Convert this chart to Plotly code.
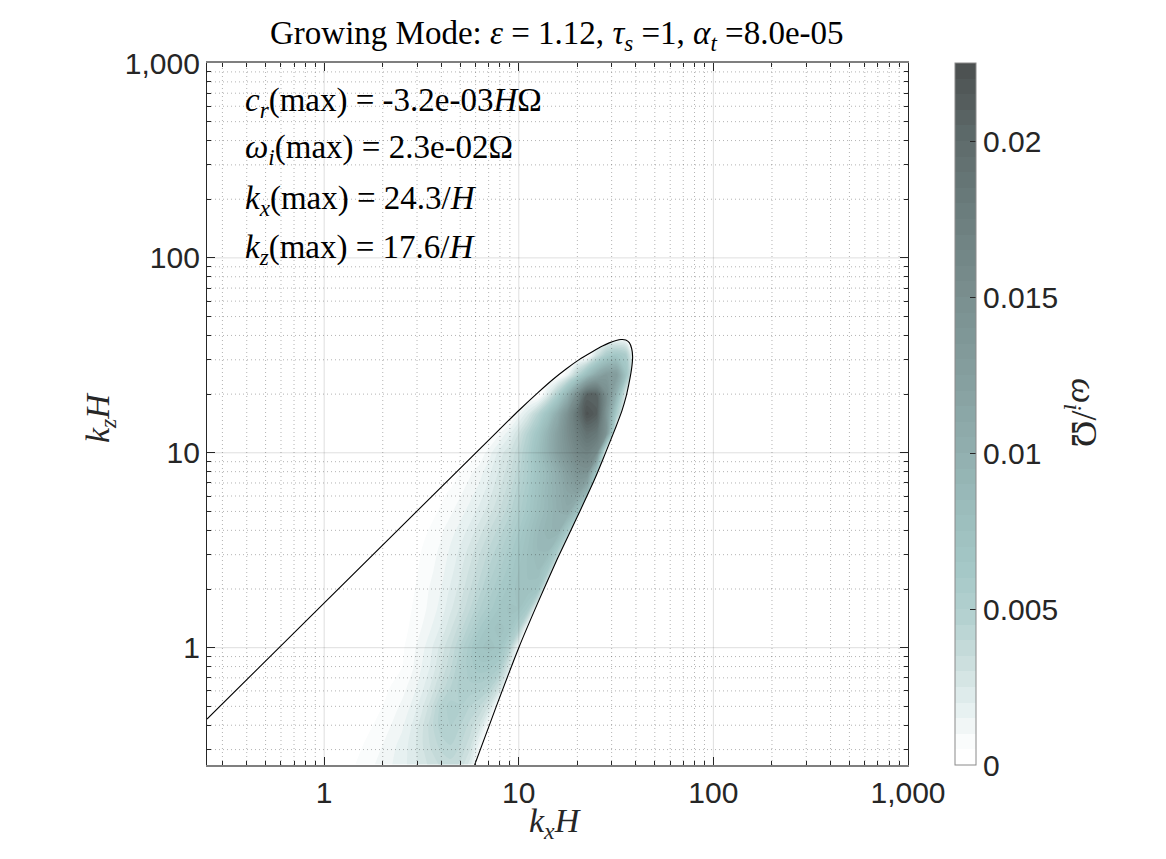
import math
import plotly.graph_objects as go

# ---------------- data ----------------
# sample grid of wavenumbers (k_x H columns, k_z H rows), log-spaced
kx_grid = [1.0, 1.259, 1.585, 1.995, 2.512, 2.818, 3.162, 3.548, 3.981, 4.467,
           5.012, 5.623, 6.310, 7.079, 7.943, 8.913, 10.0, 11.22, 12.59, 14.13,
           15.85, 17.78, 19.95, 22.39, 25.12, 28.18, 31.62, 35.48, 39.81, 44.67, 50.12]
kz_grid = [0.2512, 0.3162, 0.3981, 0.5012, 0.6310, 0.7943, 1.0, 1.259, 1.585, 1.995,
           2.512, 3.162, 3.981, 5.012, 6.310, 7.943, 10.0, 12.59, 15.85, 19.95,
           25.12, 31.62, 39.81, 50.12]

# growth rate omega_i / Omega: one row per kz_grid value
omega_i = [
    [0, 0.0002, 0.0007, 0.0012, 0.0018, 0.0022, 0.0027, 0.0032, 0.0036, 0.0038, 0.0034, 0.0022] + [0] * 19,
    [0, 0.0001, 0.0005, 0.0010, 0.0017, 0.0022, 0.0029, 0.0036, 0.0042, 0.0045, 0.0040, 0.0032, 0.0012] + [0] * 18,
    [0, 0, 0.0003, 0.0007, 0.0014, 0.0020, 0.0028, 0.0038, 0.0048, 0.0050, 0.0045, 0.0038, 0.0028, 0.0005] + [0] * 17,
    [0, 0, 0.0001, 0.0005, 0.0011, 0.0016, 0.0023, 0.0033, 0.0047, 0.0052, 0.0050, 0.0045, 0.0040, 0.0028] + [0] * 17,
    [0, 0, 0, 0.0003, 0.0008, 0.0012, 0.0018, 0.0026, 0.0036, 0.0045, 0.0052, 0.0054, 0.0053, 0.0048, 0.0032] + [0] * 16,
    [0, 0, 0, 0.0001, 0.0005, 0.0009, 0.0015, 0.0021, 0.0030, 0.0039, 0.0050, 0.0058, 0.0063, 0.0062, 0.0055, 0.0025] + [0] * 15,
    [0, 0, 0, 0, 0.0004, 0.0008, 0.0013, 0.0019, 0.0027, 0.0035, 0.0046, 0.0058, 0.0069, 0.0072, 0.0068, 0.0050, 0.0008] + [0] * 14,
    [0, 0, 0, 0, 0.0003, 0.0006, 0.0010, 0.0015, 0.0021, 0.0029, 0.0038, 0.0048, 0.0060, 0.0068, 0.0072, 0.0068, 0.0052] + [0] * 14,
    [0, 0, 0, 0, 0.0002, 0.0005, 0.0008, 0.0012, 0.0017, 0.0024, 0.0031, 0.0040, 0.0050, 0.0058, 0.0066, 0.0071, 0.0070, 0.0058] + [0] * 13,
    [0, 0, 0, 0, 0.0002, 0.0004, 0.0007, 0.0011, 0.0015, 0.0021, 0.0027, 0.0035, 0.0043, 0.0052, 0.0060, 0.0067, 0.0072, 0.0074, 0.0068] + [0] * 12,
    [0, 0, 0, 0, 0.0001, 0.0003, 0.0006, 0.0009, 0.0013, 0.0018, 0.0024, 0.0031, 0.0038, 0.0046, 0.0054, 0.0062, 0.0070, 0.0076, 0.0080, 0.0060] + [0] * 11,
    [0, 0, 0, 0, 0, 0.0002, 0.0005, 0.0008, 0.0011, 0.0016, 0.0021, 0.0027, 0.0034, 0.0041, 0.0048, 0.0057, 0.0066, 0.0076, 0.0085, 0.0086, 0.0058] + [0] * 10,
    [0, 0, 0, 0, 0, 0, 0.0003, 0.0006, 0.0009, 0.0013, 0.0017, 0.0022, 0.0028, 0.0035, 0.0042, 0.0050, 0.0060, 0.0072, 0.0085, 0.0093, 0.0097, 0.0062] + [0] * 9,
    [0, 0, 0, 0, 0, 0, 0, 0.0003, 0.0006, 0.0009, 0.0013, 0.0017, 0.0022, 0.0028, 0.0035, 0.0043, 0.0053, 0.0064, 0.0078, 0.0090, 0.0100, 0.0108, 0.0078] + [0] * 8,
    [0] * 8 + [0.0003, 0.0006, 0.0009, 0.0013, 0.0017, 0.0023, 0.0030, 0.0038, 0.0048, 0.0060, 0.0075, 0.0090, 0.0102, 0.0115, 0.0122, 0.0095] + [0] * 7,
    [0] * 10 + [0.0005, 0.0009, 0.0013, 0.0019, 0.0026, 0.0033, 0.0043, 0.0056, 0.0072, 0.0088, 0.0105, 0.0125, 0.0142, 0.0145, 0.0065] + [0] * 6,
    [0] * 12 + [0.0006, 0.0013, 0.0022, 0.0029, 0.0039, 0.0055, 0.0076, 0.0098, 0.0122, 0.0142, 0.0160, 0.0168, 0.0155] + [0] * 6,
    [0] * 13 + [0.0002, 0.0009, 0.0018, 0.0030, 0.0047, 0.0068, 0.0095, 0.0122, 0.0150, 0.0175, 0.0192, 0.0184, 0.0142] + [0] * 5,
    [0] * 16 + [0.0012, 0.0025, 0.0045, 0.0072, 0.0105, 0.0145, 0.0188, 0.0222, 0.0212, 0.0142, 0.0060] + [0] * 4,
    [0] * 19 + [0.0022, 0.0052, 0.0095, 0.0150, 0.0205, 0.0205, 0.0150, 0.0100, 0.0020] + [0] * 3,
    [0] * 21 + [0.0015, 0.0045, 0.0080, 0.0110, 0.0130, 0.0130, 0.0070] + [0] * 3,
    [0] * 24 + [0.0030, 0.0055, 0.0065, 0.0055] + [0] * 3,
    [0] * 31,
    [0] * 31,
]

# marginal-stability curve (omega_i = 0)
bound_kx = [0.25, 7.943, 10.0, 12.59, 14.96, 17.50, 20.42, 23.99, 26.92, 29.17, 31.62,
            33.50, 35.48, 36.98, 38.02, 38.46, 38.19, 37.67, 36.73, 35.56, 33.88, 31.62,
            29.51, 26.98, 24.43, 19.95, 15.85, 12.59, 10.0, 7.674, 5.929]
bound_kz = [0.4305, 13.15, 16.48, 20.42, 23.77, 26.92, 30.06, 33.11, 35.32, 36.64, 37.67,
            38.11, 37.93, 36.73, 34.28, 31.05, 28.18, 25.53, 22.39, 19.36, 16.41, 13.65,
            11.48, 9.183, 7.244, 4.677, 2.884, 1.718, 1.0, 0.5012, 0.25]

ax_min, ax_max = 0.25, 1000
major_vals = [1, 10, 100, 1000]
major_text = ["1", "10", "100", "1,000"]
cbar_vals = [0, 0.005, 0.01, 0.015, 0.02]
cbar_text = ["0", "0.005", "0.01", "0.015", "0.02"]
z_max = 0.0225

title_txt = ("Growing Mode: <i>ε</i> = 1.12, <i>τ<sub>s</sub></i> =1, "
             "<i>α<sub>t</sub></i> =8.0e-05")
info_lines = ["<i>c<sub>r</sub></i>(max) = -3.2e-03<i>H</i>Ω",
              "<i>ω<sub>i</sub></i>(max) = 2.3e-02Ω",
              "<i>k<sub>x</sub></i>(max) = 24.3/<i>H</i>",
              "<i>k<sub>z</sub></i>(max) = 17.6/<i>H</i>"]

# ---------------- figure ----------------
colorscale = [
    [0.0, "#ffffff"], [0.0667, "#e3eeee"], [0.1333, "#c9dddc"], [0.2, "#b2d0cf"],
    [0.2667, "#a4c7c6"], [0.3333, "#9dbfbe"], [0.4444, "#90adad"], [0.5556, "#849d9d"],
    [0.6667, "#798e8e"], [0.7778, "#6c7e7e"], [0.8889, "#5e6b6b"], [1.0, "#4b4f4f"],
]

TXT = "#262626"
SERIF = "Liberation Serif"
SANS = "Liberation Sans"

fig = go.Figure()

fig.add_trace(go.Contour(
    x=kx_grid, y=kz_grid, z=omega_i,
    zmin=0, zmax=z_max, colorscale=colorscale,
    contours=dict(start=0.0005, end=z_max, size=0.0005, coloring="fill", showlines=False),
    line=dict(width=0, smoothing=0.8),
    colorbar=dict(
        x=(955 - 207) / 701, xanchor="left", xpad=0,
        y=0.5, yanchor="middle", ypad=0, len=1, lenmode="fraction",
        thickness=21, outlinecolor="#8a8a8a", outlinewidth=1,
        tickmode="array", tickvals=cbar_vals, ticktext=cbar_text,
        ticks="inside", ticklen=6, tickcolor=TXT, tickwidth=1,
        tickfont=dict(family=SANS, size=30, color=TXT),
    ),
    hoverinfo="skip",
))

# white mask outside the unstable region
far_lo, far_hi = 1e-3, 1e5
mask_x = bound_kx + [bound_kx[-1], far_hi, far_hi, far_lo, far_lo, bound_kx[0]]
mask_y = bound_kz + [far_lo, far_lo, far_hi, far_hi, bound_kz[0], bound_kz[0]]
fig.add_trace(go.Scatter(x=mask_x, y=mask_y, mode="lines", fill="toself",
                         fillcolor="white", line=dict(width=0), hoverinfo="skip",
                         showlegend=False))

# grid lines (drawn above the filled contours, as in the original)
minor_vals = [m * 10 ** k for k in (-1, 0, 1, 2) for m in range(2, 10)
              if ax_min <= m * 10 ** k <= ax_max]


def vlines(vals):
    xs, ys = [], []
    for v in vals:
        xs += [v, v, None]
        ys += [ax_min, ax_max, None]
    return xs, ys


def hlines(vals):
    ys, xs = vlines(vals)
    return xs, ys


for vals, dash, col in [(minor_vals, "1px,3px", "rgba(38,38,38,0.35)"),
                        (major_vals[:-1], "solid", "rgba(38,38,38,0.15)")]:
    for fn in (vlines, hlines):
        gx, gy = fn(vals)
        fig.add_trace(go.Scatter(x=gx, y=gy, mode="lines",
                                 line=dict(color=col, width=1, dash=dash),
                                 hoverinfo="skip", showlegend=False))

# marginal stability contour line
fig.add_trace(go.Scatter(x=bound_kx, y=bound_kz, mode="lines",
                         line=dict(color="black", width=1.1, shape="spline", smoothing=0.6),
                         hoverinfo="skip", showlegend=False))

axis_common = dict(
    type="log", tickmode="array", tickvals=major_vals, ticktext=major_text,
    ticks="inside", ticklen=8, tickwidth=1, tickcolor=TXT,
    showgrid=False, zeroline=False, showline=True, mirror="allticks",
    tickfont=dict(family=SANS, size=30, color=TXT),
    minor=dict(ticks="inside", ticklen=4, tickcolor=TXT, tickwidth=1,
               tickmode="array", tickvals=minor_vals, showgrid=False),
)
rng = [math.log10(ax_min), math.log10(ax_max)]
fig.update_xaxes(range=rng, linecolor="#7f7f7f", linewidth=1.5, **axis_common)
fig.update_yaxes(range=rng, linecolor=TXT, linewidth=1.2, **axis_common)

W, H = 1166, 859
L, R, T, B = 207, 908, 63, 765


def px(xp):
    return (xp - L) / (R - L)


def py(yp):
    return (B - yp) / (B - T)


ann = [
    dict(text=title_txt, x=px(557), y=py(35), font=dict(family=SERIF, size=33, color="black")),
    dict(text="<i>k<sub>x</sub>H</i>", x=px(555), y=py(823), font=dict(family=SERIF, size=34, color=TXT)),
    dict(text="<i>k<sub>z</sub>H</i>", x=px(100), y=py(418), textangle=-90,
         font=dict(family=SERIF, size=34, color=TXT)),
    dict(text="<i>ω<sub>i</sub></i>/Ω", x=px(1082), y=py(412), textangle=90,
         font=dict(family=SERIF, size=36, color=TXT)),
]
for t, yc in zip(info_lines, [102, 149, 200, 250]):
    ann.append(dict(text=t, x=px(243), y=py(yc), xanchor="left",
                    font=dict(family=SERIF, size=33, color="black")))
for a in ann:
    a.setdefault("xanchor", "center")
    a.update(xref="paper", yref="paper", yanchor="middle", showarrow=False)

fig.update_layout(
    width=W, height=H, margin=dict(l=L, r=W - R, t=T, b=H - B),
    paper_bgcolor="white", plot_bgcolor="white", showlegend=False,
    annotations=ann,
)

fig.write_html("out.html")
